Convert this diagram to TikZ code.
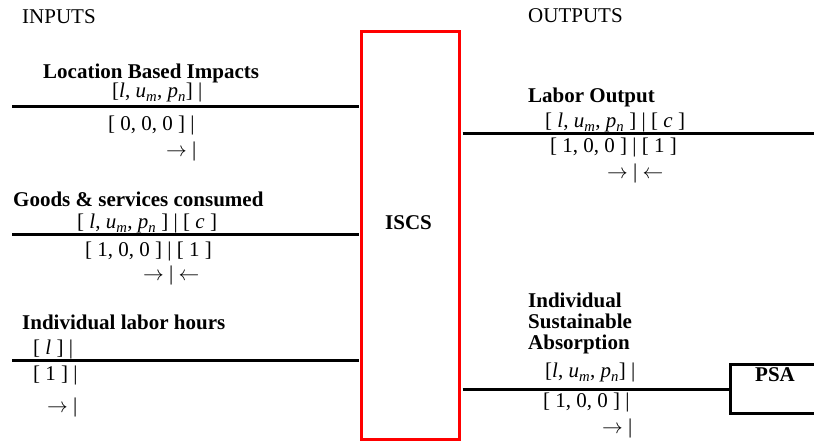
\documentclass[tikz,border=0pt]{standalone}
\usepackage{fontspec}
\setmainfont{Liberation Serif}
\newcommand{\itsub}[2]{\textit{#1}\textsubscript{\textit{#2}}}
\begin{document}
\begin{tikzpicture}[x=1pt, y=-1pt,
  font=\fontsize{21}{21}\selectfont,
  txt/.style={inner sep=0, anchor=base west},
  ttl/.style={txt, font=\fontsize{21}{21}\selectfont\bfseries},
  flow/.style={line width=3pt},
  redbox/.style={draw=red, line width=3pt, inner sep=0,
    minimum width=98pt, minimum height=408pt},
  psabox/.style={draw, line width=3pt, inner sep=0, anchor=north west,
    minimum width=120pt, minimum height=49pt}]
  \useasboundingbox (0, 0) rectangle (814, 443);
  \clip (0, 0) rectangle (814, 443);

  \node[redbox] (iscs) at (410.5, 235.5) {};
  \node[ttl] (iscslbl) at (385, 230) {ISCS};
  \node[psabox] (psa) at (728.5, 363.5) {};
  \node[ttl] (psalbl) at (755, 382) {PSA};

  \node[txt] (inputs) at (22, 24) {INPUTS};
  \node[txt] (outputs) at (528, 23) {OUTPUTS};

  % inputs
  \node[ttl] (loc) at (43, 79) {Location Based Impacts};
  \node[txt] (loc1) at (112, 98) {[\textit{l}, \itsub{u}{m}, \itsub{p}{n}] |};
  \node[txt] (loc2) at (108, 131) {[ 0, 0, 0 ] |};
  \node[txt] (loc3) at (166, 157) {$\rightarrow$ |};
  \coordinate (locin) at (12, 107);
  \draw[flow, shorten >=1.5pt] (locin) -- (locin -| iscs.west);

  \node[ttl] (goods) at (13, 207) {Goods \& services consumed};
  \node[txt] (goods1) at (77, 229) {[ \textit{l}, \itsub{u}{m}, \itsub{p}{n} ] | [ \textit{c} ]};
  \node[txt] (goods2) at (85, 257) {[ 1, 0, 0 ] | [ 1 ]};
  \node[txt] (goods3) at (143, 281) {$\rightarrow$ | $\leftarrow$};
  \coordinate (goodsin) at (12, 235);
  \draw[flow, shorten >=1.5pt] (goodsin) -- (goodsin -| iscs.west);

  \node[ttl] (hours) at (22, 330) {Individual labor hours};
  \node[txt] (hours1) at (33, 355) {[ \textit{l} ] |};
  \node[txt] (hours2) at (33, 381) {[ 1 ] |};
  \node[txt] (hours3) at (47, 413) {$\rightarrow$ |};
  \coordinate (hoursin) at (12, 361);
  \draw[flow, shorten >=1.5pt] (hoursin) -- (hoursin -| iscs.west);

  % outputs
  \node[ttl] (labor) at (528, 103) {Labor Output};
  \node[txt] (labor1) at (545, 128) {[ \textit{l}, \itsub{u}{m}, \itsub{p}{n} ] | [ \textit{c} ]};
  \node[txt] (labor2) at (550, 153) {[ 1, 0, 0 ] | [ 1 ]};
  \node[txt] (labor3) at (607, 179) {$\rightarrow$ | $\leftarrow$};
  \coordinate (laborout) at (814, 134);
  \draw[flow, shorten <=1.5pt] (laborout -| iscs.east) -- (laborout);

  \node[ttl, anchor=north west, align=left] (isa) at (528, 293)
    {Individual\\Sustainable\\Absorption};
  \node[txt] (isa1) at (545, 378) {[\textit{l}, \itsub{u}{m}, \itsub{p}{n}] |};
  \node[txt] (isa2) at (543, 408) {[ 1, 0, 0 ] |};
  \node[txt] (isa3) at (602, 433) {$\rightarrow$ |};
  \draw[flow, shorten <=1.5pt] (psa.west -| iscs.east) -- (psa.west);
\end{tikzpicture}
\end{document}
